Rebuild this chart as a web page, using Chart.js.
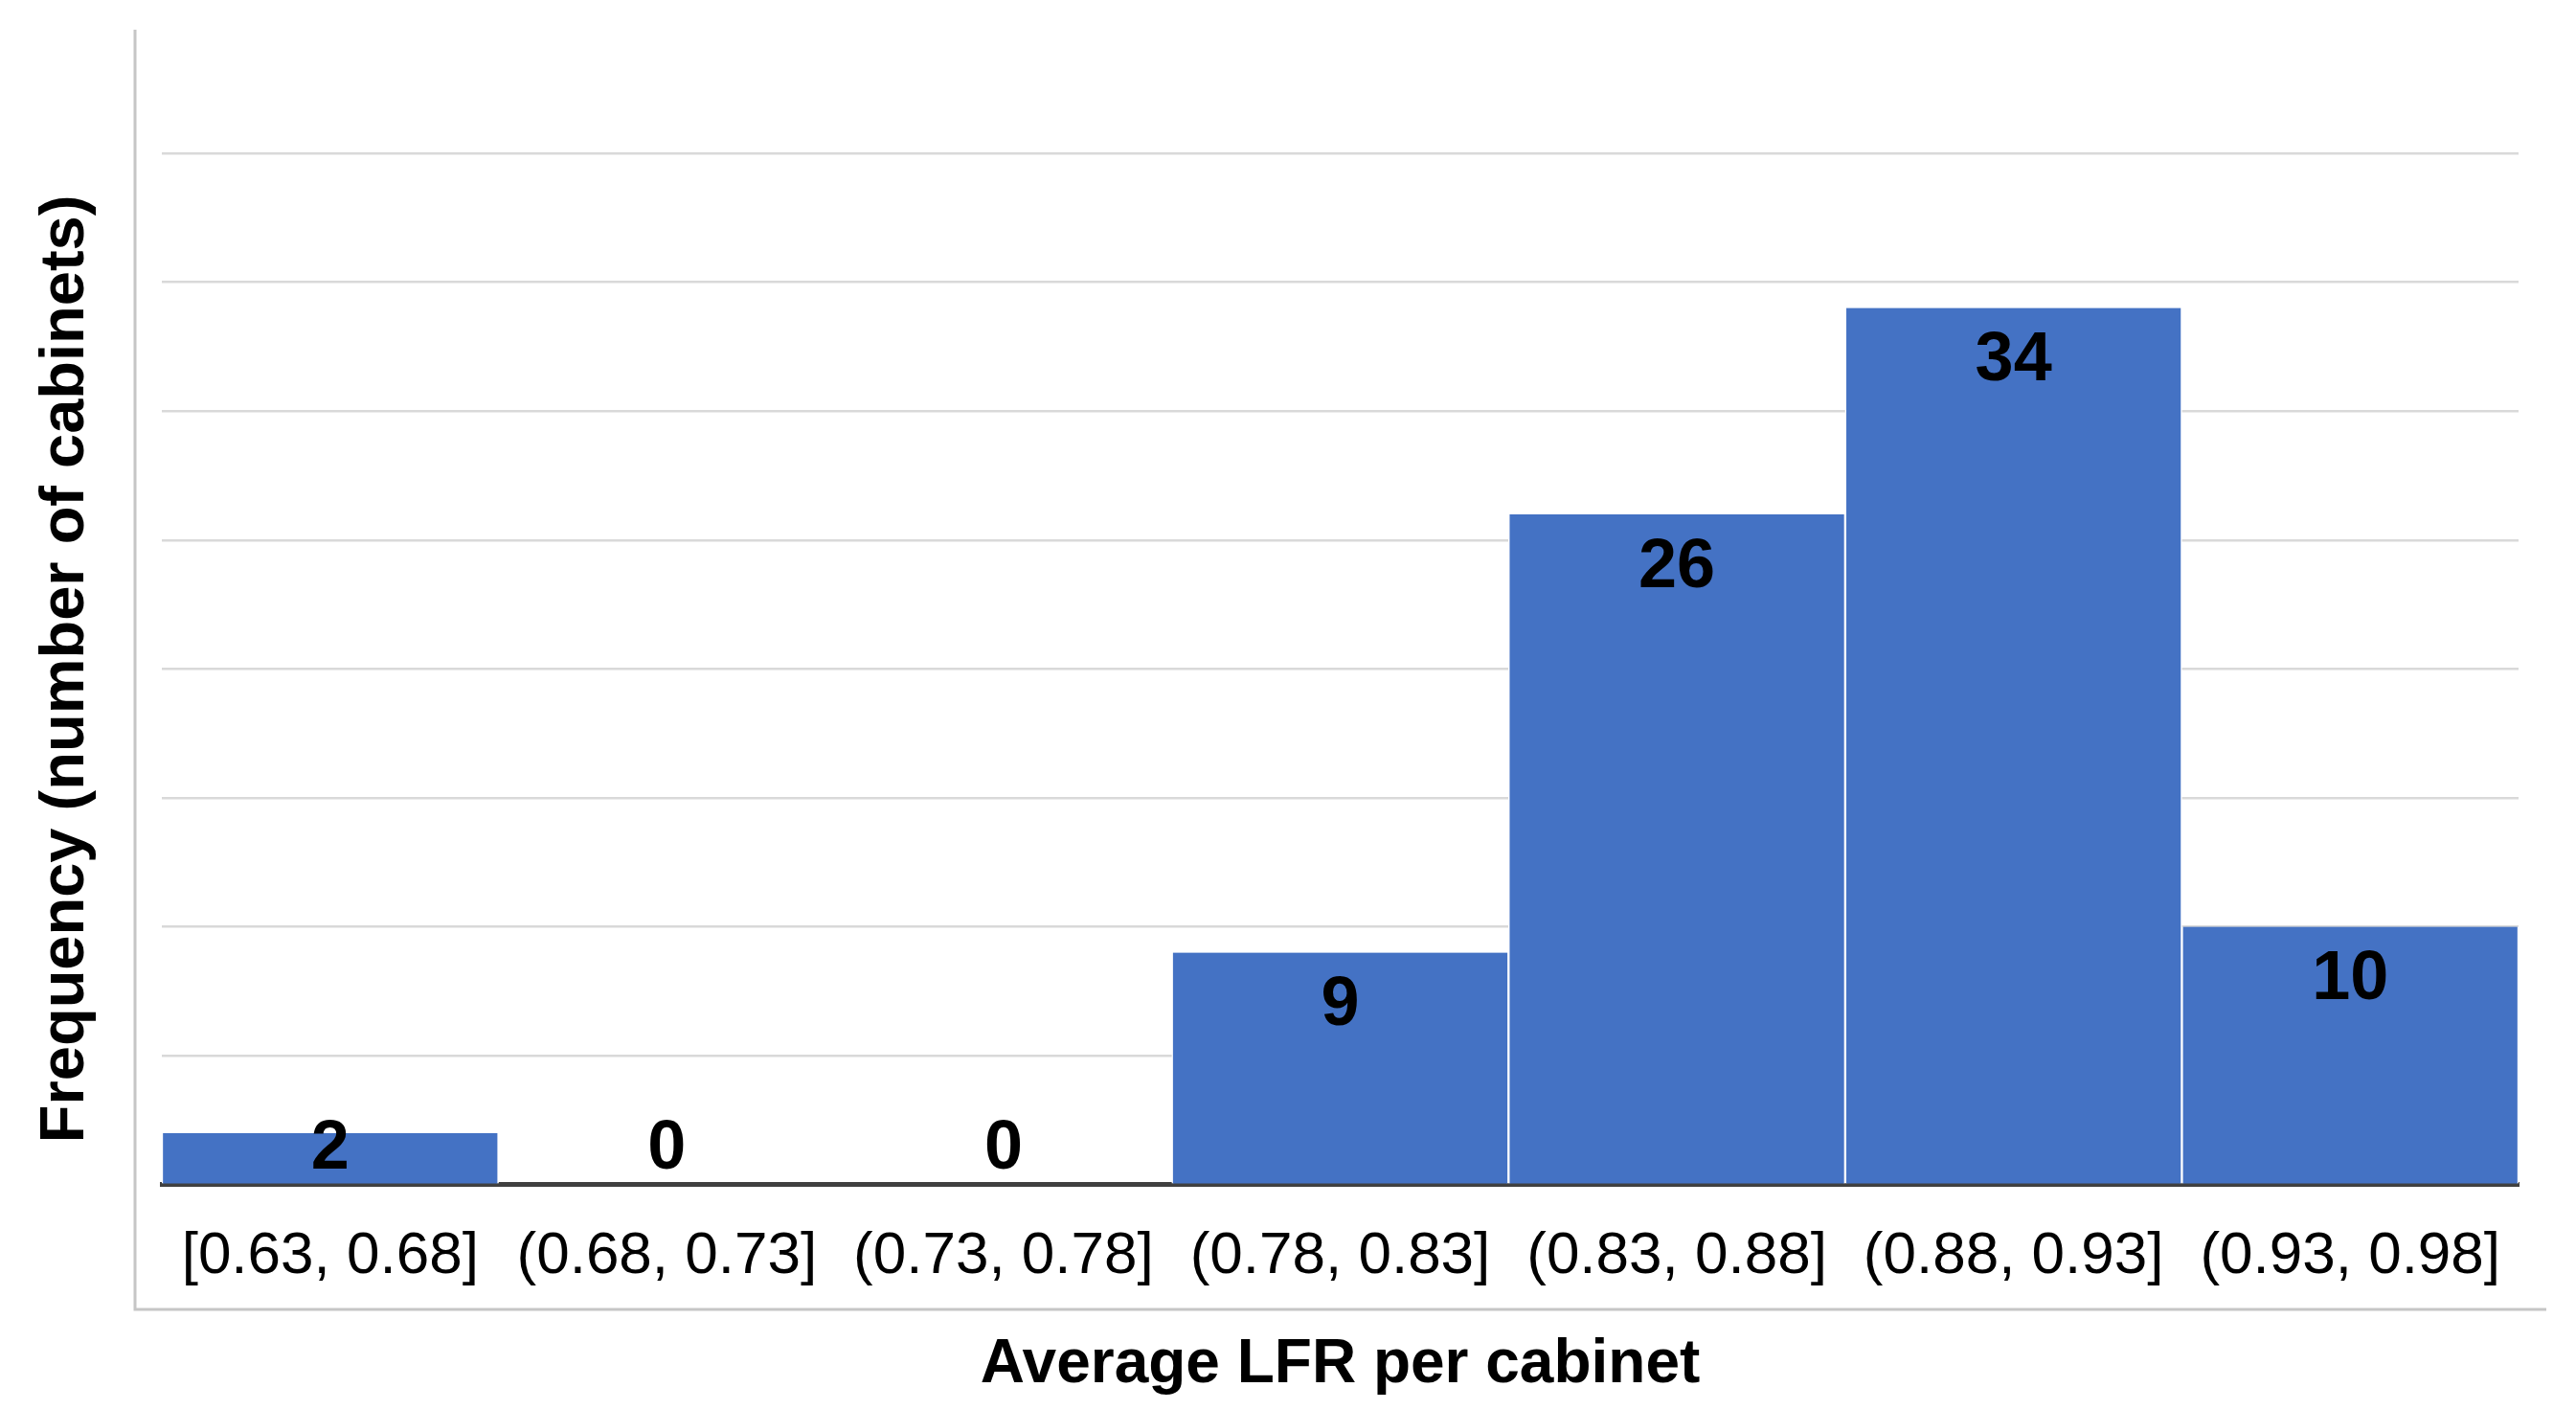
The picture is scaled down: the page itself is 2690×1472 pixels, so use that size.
<!DOCTYPE html>
<html>
<head>
<meta charset="utf-8">
<script src="https://cdn.jsdelivr.net/npm/chart.js@4.4.0/dist/chart.umd.min.js"></script>
<style>
    body { margin: 0; background: #ffffff; }
    canvas { display: block; }
</style>
</head>
<body>
<canvas id="lfrChart" width="2690" height="1472"></canvas>
<script>
// bins of average LFR per cabinet
const binLabels = ['[0.63, 0.68]', '(0.68, 0.73]', '(0.73, 0.78]', '(0.78, 0.83]', '(0.83, 0.88]', '(0.88, 0.93]', '(0.93, 0.98]'];
// number of cabinets in each bin
const cabinetCounts = [2, 0, 0, 9, 26, 34, 10];
// y axis range (no tick labels shown, only gridlines)
const yMin = 0;
const yMax = 40;
const yStep = 5;

// light grey frame round the plot (left + bottom only, like the excel export)
const framePlugin = {
    id: 'frame',
    beforeDraw(chart) {
        const ctx = chart.ctx;
        ctx.save();
        ctx.strokeStyle = '#c6c6c6';
        ctx.lineWidth = 3;
        ctx.beginPath();
        ctx.moveTo(141, 31);
        ctx.lineTo(141, 1367);
        ctx.lineTo(2659, 1367);
        ctx.stroke();
        ctx.restore();
    }
};

// value labels, "inside end" of each bar
const valueLabels = {
    id: 'valueLabels',
    afterDatasetsDraw(chart) {
        const ctx = chart.ctx;
        const yScale = chart.scales.y;
        const meta = chart.getDatasetMeta(0);
        ctx.save();
        ctx.font = 'bold 72px "Liberation Sans", Arial, sans-serif';
        ctx.fillStyle = '#000000';
        ctx.textAlign = 'center';
        ctx.textBaseline = 'middle';
        meta.data.forEach((bar, i) => {
            const v = cabinetCounts[i];
            const y = Math.min(yScale.getPixelForValue(v) + 56, yScale.getPixelForValue(0) - 37);
            ctx.fillText(String(v), bar.x, y);
        });
        ctx.restore();
    }
};

const ctx = document.getElementById('lfrChart');
const lfrChart = new Chart(ctx, {
    type: 'bar',
    data: {
        labels: binLabels,
        datasets: [{
            data: cabinetCounts,
            backgroundColor: '#4472c4',
            borderColor: '#ffffff',
            borderWidth: { left: 1.5, right: 1.5, top: 0, bottom: 0 },
            borderSkipped: false,
            barPercentage: 1.0,
            categoryPercentage: 1.0
        }]
    },
    options: {
        responsive: false,
        animation: false,
        layout: {
            padding: { left: 30, right: 60, top: 160, bottom: 8 }
        },
        scales: {
            x: {
                z: 1,   // draw axis line over the bars
                grid: { display: false, drawTicks: false },
                border: { display: true, color: '#404040', width: 5 },
                ticks: {
                    color: '#000000',
                    padding: 38,
                    maxRotation: 0,
                    autoSkip: false,
                    font: { family: '"Liberation Sans", Arial, sans-serif', size: 62 }
                },
                title: {
                    display: true,
                    text: 'Average LFR per cabinet',
                    color: '#000000',
                    padding: 0,
                    font: { family: '"Liberation Sans", Arial, sans-serif', size: 64, weight: 'bold' }
                }
            },
            y: {
                min: yMin,
                max: yMax,
                grid: {
                    color: '#d9d9d9',
                    lineWidth: 2.5,
                    drawTicks: false
                },
                border: { display: false },
                ticks: { display: false, stepSize: yStep },
                title: {
                    display: true,
                    text: 'Frequency (number of cabinets)',
                    color: '#000000',
                    padding: { top: 0, bottom: 61 },
                    font: { family: '"Liberation Sans", Arial, sans-serif', size: 65, weight: 'bold' }
                }
            }
        },
        plugins: {
            legend: { display: false },
            tooltip: { enabled: false }
        }
    },
    plugins: [framePlugin, valueLabels]
});
</script>
</body>
</html>
